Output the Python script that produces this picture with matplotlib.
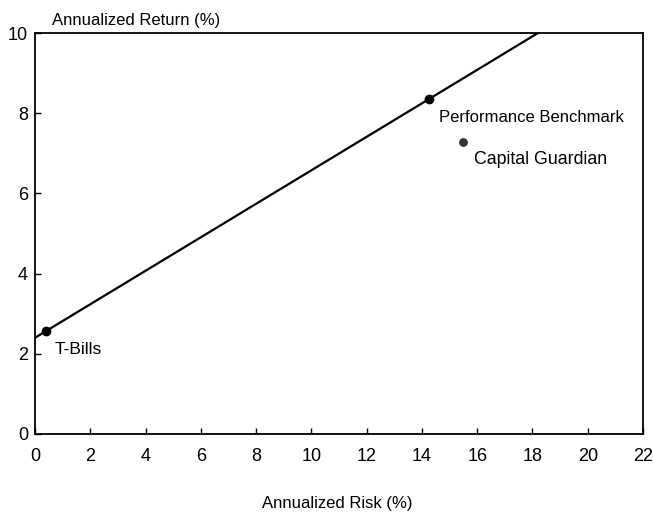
import matplotlib.pyplot as plt

plt.rcParams["font.family"] = ["Liberation Sans", "DejaVu Sans"]

# data
point_names = ["T-Bills", "Performance Benchmark", "Capital Guardian"]
risk = [0.4, 14.25, 15.5]
ret = [2.58, 8.35, 7.27]
line_x = [0, 18.2]
line_y = [2.4, 10]
x_ticks = [0, 2, 4, 6, 8, 10, 12, 14, 16, 18, 20, 22]
y_ticks = [0, 2, 4, 6, 8, 10]

fig = plt.figure(figsize=(6.53, 5.15), dpi=100)
ax = fig.add_axes([0.0536, 0.1573, 0.9311, 0.7786])

ax.plot(line_x, line_y, color="black", linewidth=1.6)
ax.scatter(risk[:2], ret[:2], s=36, color="black", zorder=3)
ax.scatter(risk[2:], ret[2:], s=28, color="#333333", zorder=3)

ax.annotate(point_names[0], (risk[0], ret[0]), xytext=(6, -13.5),
            textcoords="offset points", fontsize=12.5, va="center")
ax.annotate(point_names[1], (risk[1], ret[1]), xytext=(7, -13),
            textcoords="offset points", fontsize=12, va="center")
ax.annotate(point_names[2], (risk[2], ret[2]), xytext=(8, -12),
            textcoords="offset points", fontsize=12.8, va="center")

ax.set_xlim(0, 22)
ax.set_ylim(0, 10)
ax.set_xticks(x_ticks)
ax.set_yticks(y_ticks)
ax.tick_params(direction="in", length=4, width=1, labelsize=13)
ax.tick_params(axis="x", pad=10)
ax.tick_params(axis="y", pad=5)
for s in ax.spines.values():
    s.set_linewidth(1.3)

fig.text(0.08, 0.961, "Annualized Return (%)", fontsize=12, va="center", ha="left")
fig.text(0.516, 0.023, "Annualized Risk (%)", fontsize=12, va="center", ha="center")

fig.savefig("out.png", dpi=100)
